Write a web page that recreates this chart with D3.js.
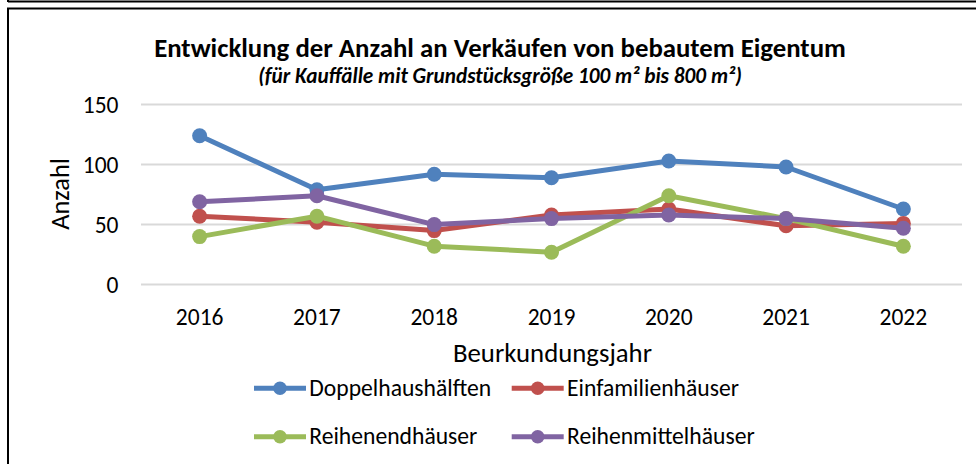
<!DOCTYPE html>
<html><head><meta charset="utf-8">
<script src="https://cdn.jsdelivr.net/npm/d3@7"></script>
<style>body{margin:0;background:#fff}svg{display:block}</style>
</head><body>
<svg id="c" width="976" height="464"></svg>
<script>
const years = ["2016","2017","2018","2019","2020","2021","2022"];
const seriesNames = ["Doppelhaushälften","Einfamilienhäuser","Reihenendhäuser","Reihenmittelhäuser"];
const doppel = [124, 79, 92, 89, 103, 98, 63];
const einfam = [57, 52, 45, 58, 63, 49, 51];
const reihenend = [40, 57, 32, 27, 74, 55, 32];
const reihenmittel = [69, 74, 50, 55, 58, 55, 47];
const yTicks = [0, 50, 100, 150];
const colors = ["#4F81BD","#C0504D","#9BBB59","#8064A2"];
const title = "Entwicklung der Anzahl an Verkäufen von bebautem Eigentum";
const subtitle = "(für Kauffälle mit Grundstücksgröße 100 m² bis 800 m²)";

const values = [doppel, einfam, reihenend, reihenmittel];
const font = "Carlito, Calibri, Lato, sans-serif";
const svg = d3.select("#c");

// scale font size so the text reaches the wanted width
function fitSize(sel, w){
  const base = +sel.attr("font-size");
  const len = sel.node().getComputedTextLength();
  sel.attr("font-size", base * w / len);
}

// frames
svg.append("line").attr("x1",8).attr("x2",976).attr("y1",1.5).attr("y2",1.5).attr("stroke","#000").attr("stroke-width",2);
svg.append("line").attr("x1",8).attr("x2",8).attr("y1",0).attr("y2",2).attr("stroke","#000").attr("stroke-width",2);
svg.append("path").attr("d","M8,470 L8,8.5 L980,8.5").attr("fill","none").attr("stroke","#000").attr("stroke-width",2);

const x = d3.scaleBand().domain(years).range([141, 962]);
const y = d3.scaleLinear().domain([0,150]).range([284.6, 104.6]);

// gridlines
svg.append("g").selectAll("line").data(yTicks).join("line")
  .attr("x1",141).attr("x2",962).attr("y1",d=>y(d)).attr("y2",d=>y(d))
  .attr("stroke","#D9D9D9").attr("stroke-width",2);

// y axis labels
const yAxis = d3.axisLeft(y).tickValues(yTicks).tickSize(0).tickPadding(0);
const gy = svg.append("g").attr("transform","translate(118.5,0)").call(yAxis);
gy.select(".domain").remove();
gy.selectAll("text").attr("font-family",font).attr("font-size",23.5).attr("fill","#000").attr("dy","0.32em");

// x axis labels
const xAxis = d3.axisBottom(x).tickSize(0).tickPadding(0);
const gx = svg.append("g").attr("transform","translate(0,324.5)").call(xAxis);
gx.select(".domain").remove();
gx.selectAll("text").attr("font-family",font).attr("font-size",23.5).attr("fill","#000").attr("y",0).attr("dy","0");

// titles
const t1 = svg.append("text").attr("x",500).attr("y",56.5).attr("text-anchor","middle")
  .attr("font-family",font).attr("font-weight","bold").attr("font-size",26).text(title);
fitSize(t1, 692);
const t2 = svg.append("text").attr("x",500).attr("y",82.5).attr("text-anchor","middle")
  .attr("font-family",font).attr("font-weight","bold").attr("font-style","italic").attr("font-size",21).text(subtitle);
fitSize(t2, 484);
const t4 = svg.append("text").attr("transform","translate(68.5,194) rotate(-90)").attr("text-anchor","middle")
  .attr("font-family",font).attr("font-size",26).text("Anzahl");
fitSize(t4, 71.7);
const t3 = svg.append("text").attr("x",552.5).attr("y",362).attr("text-anchor","middle")
  .attr("font-family",font).attr("font-size",26.5).text("Beurkundungsjahr");
fitSize(t3, 199);

// lines
const line = d3.line().x((d,i)=>x(years[i])+x.bandwidth()/2).y(d=>y(d));
values.forEach((vals,si)=>{
  const g = svg.append("g");
  g.append("path").attr("d",line(vals)).attr("fill","none").attr("stroke",colors[si])
    .attr("stroke-width",5).attr("stroke-linejoin","round").attr("stroke-linecap","round");
  g.selectAll("circle").data(vals).join("circle")
    .attr("cx",(d,i)=>x(years[i])+x.bandwidth()/2).attr("cy",d=>y(d)).attr("r",7.5).attr("fill",colors[si]);
});

// legend
const legPos = [[280,388.3],[537.7,388.3],[280,436.7],[537.7,436.7]];
const legTexts = [];
seriesNames.forEach((n,i)=>{
  const [mx,ly] = legPos[i];
  const g = svg.append("g");
  g.append("line").attr("x1",mx-26).attr("x2",mx+26).attr("y1",ly).attr("y2",ly).attr("stroke",colors[i]).attr("stroke-width",5);
  g.append("circle").attr("cx",mx).attr("cy",ly).attr("r",6.8).attr("fill",colors[i]);
  legTexts.push(g.append("text").attr("x",mx+29.3).attr("y",ly+7.7).attr("font-family",font).attr("font-size",23.5).text(n));
});
const legSize = 23.5 * 182 / legTexts[0].node().getComputedTextLength();
legTexts.forEach(t => t.attr("font-size", legSize));
</script>
</body></html>
